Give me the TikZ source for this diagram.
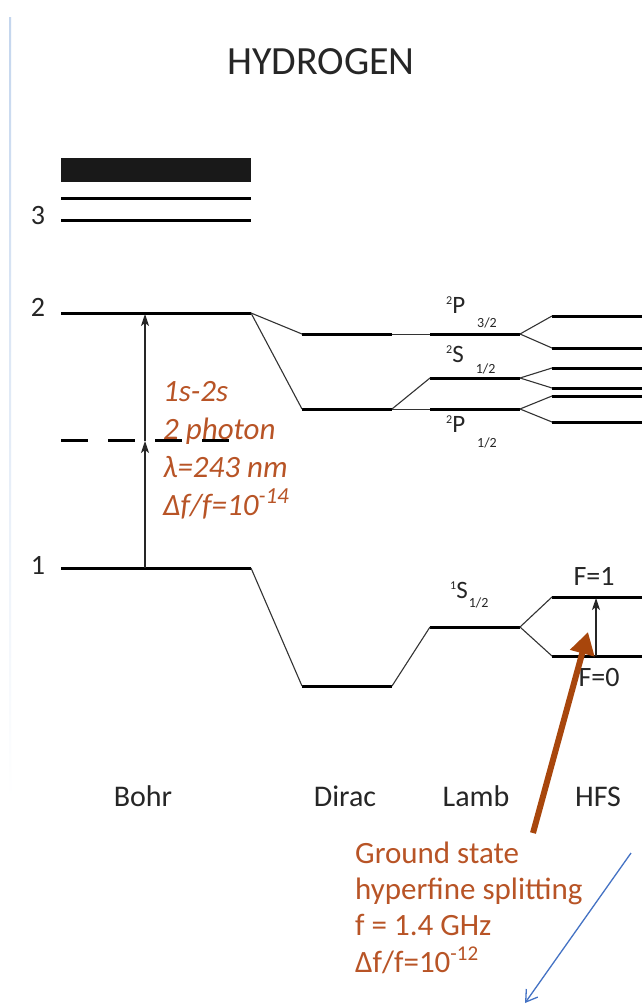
\documentclass[tikz,border=0pt]{standalone}
\usepackage{fontspec}
\setmainfont{Carlito}
\usetikzlibrary{arrows.meta}
\definecolor{redtxt}{RGB}{184,84,38}
\definecolor{brownarr}{RGB}{168,70,12}
\definecolor{bluearr}{RGB}{68,114,196}
\definecolor{sideblue}{RGB}{196,214,238}
\newcommand{\stlab}[5]{\fontsize{25}{25}\selectfont\raisebox{8.5pt}{\fontsize{12}{12}\selectfont #1}#2\hspace{#5}\raisebox{#4}{\fontsize{14}{14}\selectfont #3}}
\begin{document}
\begin{tikzpicture}[x=1pt,y=-1pt,
  lvl/.style={line width=3pt},
  conn/.style={line width=1.1pt, draw=black!80},
  thinl/.style={line width=0.9pt, draw=black!80},
  arr/.style={line width=1.1pt, draw=black!85, -{Stealth[length=12pt,width=8pt,inset=3pt]}},
  numlbl/.style={font=\fontsize{28}{28}\selectfont, inner sep=0pt, text=black!85},
  collbl/.style={font=\fontsize{30}{30}\selectfont, inner sep=0pt, anchor=base, text=black!85},
  redi/.style={font=\fontsize{31}{31}\selectfont\itshape, text=redtxt, inner sep=0pt, anchor=base west},
  redn/.style={font=\fontsize{31}{31}\selectfont, text=redtxt, inner sep=0pt, anchor=base west},
  st/.style={inner sep=0pt, anchor=base west, text=black!85},
  flbl/.style={font=\fontsize{28}{28}\selectfont, inner sep=0pt, anchor=base, text=black!85}]
\useasboundingbox (0,0) rectangle (642,1006);
\fill[white] (0,0) rectangle (642,1006);
\shade[top color=sideblue, bottom color=white] (9,18) rectangle (11,800);

% title
\node[font=\fontsize{40}{40}\selectfont, inner sep=0pt, text=black!85] (title) at (321,62) {HYDROGEN};

% Bohr levels
\fill[black!90] (61,158) rectangle (251,182);
\coordinate (B3aL) at (61,198); \coordinate (B3aR) at (251,198);
\coordinate (B3bL) at (61,220); \coordinate (B3bR) at (251,220);
\coordinate (B2L) at (61,313); \coordinate (B2R) at (251,313);
\coordinate (B1L) at (61,568); \coordinate (B1R) at (251,568);
\draw[lvl] (B3aL) -- (B3aR);
\draw[lvl] (B3bL) -- (B3bR);
\draw[lvl] (B2L) -- (B2R);
\draw[lvl] (B1L) -- (B1R);
\coordinate (VL) at (61,440); \coordinate (VR) at (231,440);
\draw[lvl, dash pattern=on 27pt off 20pt] (VL) -- (VR);
\node[numlbl] (n3) at (38,216) {3};
\node[numlbl] (n2) at (38,307) {2};
\node[numlbl] (n1) at (38,565) {1};

% Dirac levels
\coordinate (D2aL) at (302,334); \coordinate (D2aR) at (392,334);
\coordinate (D2bL) at (302,409); \coordinate (D2bR) at (392,409);
\coordinate (D1L) at (302,686); \coordinate (D1R) at (392,686);
\draw[lvl] (D2aL) -- (D2aR);
\draw[lvl] (D2bL) -- (D2bR);
\draw[lvl] (D1L) -- (D1R);

% Lamb levels
\coordinate (L3L) at (430,334); \coordinate (L3R) at (520,334);
\coordinate (LsL) at (430,378); \coordinate (LsR) at (520,378);
\coordinate (LpL) at (430,409); \coordinate (LpR) at (520,409);
\coordinate (L1L) at (430,627); \coordinate (L1R) at (520,627);
\draw[lvl] (L3L) -- (L3R);
\draw[lvl] (LsL) -- (LsR);
\draw[lvl] (LpL) -- (LpR);
\draw[lvl] (L1L) -- (L1R);

% HFS levels
\foreach \n/\yy in {a/316,b/348,c/368,d/388,e/396,f/422,g/597,h/656}{
  \coordinate (H\n L) at (552,\yy); \coordinate (H\n R) at (642,\yy);
  \draw[lvl] (H\n L) -- (H\n R);
}

% connectors
\draw[conn] (B2R) -- (D2aL);
\draw[conn] (B2R) -- (D2bL);
\draw[thinl] (D2aR) -- (L3L);
\draw[thinl] (D2bR) -- (LpL);
\draw[conn] (D2bR) -- (LsL);
\draw[conn] (L3R) -- (HaL);
\draw[conn] (L3R) -- (HbL);
\draw[conn] (LsR) -- (HcL);
\draw[conn] (LsR) -- (HdL);
\draw[conn] (LpR) -- (HeL);
\draw[conn] (LpR) -- (HfL);
\draw[conn] (B1R) -- (D1L);
\draw[conn] (D1R) -- (L1L);
\draw[conn] (L1R) -- (HgL);
\draw[conn] (L1R) -- (HhL);

% Bohr two-photon arrows
\coordinate (A1) at (145,568); \coordinate (A2) at (145,441); \coordinate (A3) at (145,314);
\draw[arr] (A1) -- (A2);
\draw[arr] (A2) -- (A3);

% HFS arrow
\coordinate (F0) at (596,656); \coordinate (F1) at (596,598);
\draw[arr] (F0) -- (F1);

% state labels
\node[st] (p32) at (446,313) {\stlab{2}{P}{3/2}{-14pt}{12pt}};
\node[st] (s12) at (446,362) {\stlab{2}{S}{1/2}{-11pt}{12pt}};
\node[st] (p12) at (446,432) {\stlab{2}{P}{1/2}{-15pt}{12pt}};
\node[st] (s1) at (450,598) {\stlab{1}{S}{1/2}{-9pt}{1pt}};
\node[flbl] (fone) at (594,585) {F=1};
\node[flbl] (fzero) at (599,686) {F=0};

% red text left
\node[redi] (t1) at (163,401) {1s-2s};
\node[redi] (t2) at (163,439) {2 photon};
\node[redi] (t3) at (163,477) {λ=243 nm};
\node[redi] (t4) at (163,515) {Δf/f=10\raisebox{12pt}{\fontsize{23}{23}\selectfont -14}};

% column labels
\node[collbl] (bohr) at (143,806) {Bohr};
\node[collbl] (dirac) at (345,806) {Dirac};
\node[collbl] (lamb) at (476,806) {Lamb};
\node[collbl] (hfs) at (598,806) {HFS};

% brown arrow
\coordinate (BrT) at (533,833); \coordinate (BrH) at (588,632);
\draw[brownarr, line width=6pt, -{Triangle[length=22pt,width=24pt]}] (BrT) -- (BrH);

% red text bottom
\node[redn] (g1) at (355,863) {Ground state};
\node[redn] (g2) at (355,899) {hyperfine splitting};
\node[redn] (g3) at (355,935) {f = 1.4 GHz};
\node[redn] (g4) at (355,972) {Δf/f=10\raisebox{12pt}{\fontsize{21}{21}\selectfont -12}};

% blue arrow
\coordinate (BlS) at (631,853); \coordinate (BlE) at (525,1003);
\draw[bluearr, line width=1.3pt, -{Straight Barb[length=11pt,width=14pt]}] (BlS) -- (BlE);
\end{tikzpicture}
\end{document}
